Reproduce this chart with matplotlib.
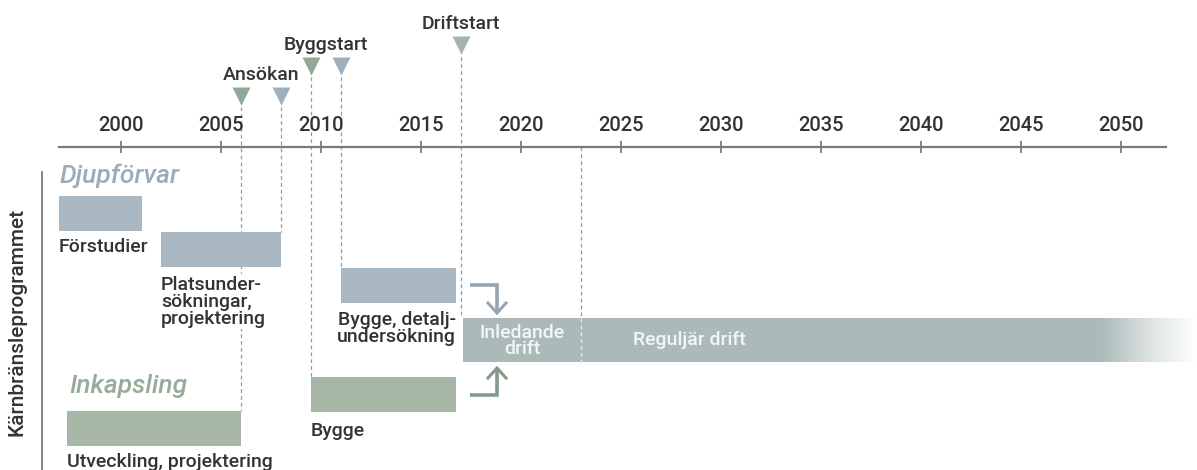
import numpy as np
import matplotlib.pyplot as plt

plt.rcParams['font.family'] = ['Roboto', 'DejaVu Sans']

# tidsaxel
years = list(range(2000, 2051, 5))

# Djupförvar
dj_labels = ['Förstudier', 'Platsunder-\nsökningar,\nprojektering', 'Bygge, detalj-\nundersökning']
dj_start = [1996.9, 2002, 2011]
dj_end = [2001.05, 2008, 2016.75]

# Inkapsling
ink_labels = ['Utveckling, projektering', 'Bygge']
ink_start = [1997.3, 2009.5]
ink_end = [2006, 2016.75]

# drift
drift_start = 2017.1
regular_start = 2023
drift_end = 2054

# milstolpar
ms_names = ['Ansökan', 'Byggstart', 'Driftstart']
ms_green = [2006, 2009.5, None]
ms_blue = [2008, 2011, 2017]

c_blue = '#a9b8c3'
c_green = '#a6b6a7'
c_drift = '#abbab9'
c_tri_green = '#93a897'
c_tri_blue = '#9cb0bf'
c_tri_drift = '#a2b5b4'
c_text = '#333333'
fs = 14

fig = plt.figure(figsize=(11.97, 4.70), dpi=100)
ax = fig.add_axes([0, 0, 1, 1])
x0 = 2000 - 121 / 20
ax.set_xlim(x0, x0 + 1197 / 20)
ax.set_ylim(470, 0)
ax.axis('off')

# axel
axis_y = 147
ax.plot([x0 + 59 / 20, x0 + 1166 / 20], [axis_y, axis_y], color='#7a7a7a', lw=1.6)
ax.vlines(years, axis_y - 6, axis_y + 6, color='#7a7a7a', lw=1.3)
for y in years:
    ax.text(y, axis_y - 12, str(y), ha='center', va='bottom', fontsize=14.5,
            color=c_text, fontweight='medium')

# staplar Djupförvar
dj_rows = [213.5, 249.5, 285]
dj_h = 35
for lab, s, e, r in zip(dj_labels, dj_start, dj_end, dj_rows):
    ax.barh(r, e - s, left=s, height=dj_h, color=c_blue, zorder=2)
txt = dict(fontsize=fs, color=c_text, fontweight='medium', linespacing=0.95, va='top',
           zorder=3)
white_box = dict(facecolor='white', edgecolor='none', pad=1)
ax.text(dj_start[0], dj_rows[0] + 25, dj_labels[0], ha='left', **txt)
ax.text(dj_start[1], dj_rows[1] + 26, dj_labels[1], ha='left', bbox=white_box, **txt)
ax.text(dj_end[2], dj_rows[2] + 26, dj_labels[2], ha='right', **txt)

# staplar Inkapsling
ink_rows = [428, 394]
for lab, s, e, r in zip(ink_labels, ink_start, ink_end, ink_rows):
    ax.barh(r, e - s, left=s, height=dj_h, color=c_green, zorder=2)
ax.text(ink_start[0], ink_rows[0] + 25, ink_labels[0], ha='left', **txt)
ax.text(ink_start[1], ink_rows[1] + 28, ink_labels[1], ha='left', **txt)

# driftstapel med uttoning
drift_row = 340
drift_h = 44
fade_at = 2049
ax.barh(drift_row, fade_at - drift_start, left=drift_start, height=drift_h, color=c_drift,
        zorder=2)
grad = np.ones((1, 256, 4))
rgb = np.array([int(c_drift[i:i + 2], 16) / 255 for i in (1, 3, 5)])
grad[0, :, :3] = rgb
grad[0, :, 3] = np.linspace(1, 0, 256) ** 1.3
ax.imshow(grad, extent=[fade_at, drift_end, drift_row + drift_h / 2, drift_row - drift_h / 2],
          aspect='auto', interpolation='bilinear', zorder=2)
ax.text((drift_start + regular_start) / 2, drift_row + 1, 'Inledande\ndrift', ha='center',
        va='center', fontsize=fs, color='#f4f6f6', fontweight='medium',
        linespacing=0.9, zorder=3)
ax.text(regular_start + 2.6, drift_row, 'Reguljär drift', ha='left', va='center',
        fontsize=fs, color='#f4f6f6', fontweight='medium', zorder=3)

# streckade linjer
dash = dict(color='#9a9a9a', lw=0.9, ls=(0, (3, 2.5)), zorder=1)
ax.plot([ms_green[0]] * 2, [100, ink_rows[0] - dj_h / 2], **dash)
ax.plot([ms_blue[0]] * 2, [100, dj_rows[1] - dj_h / 2], **dash)
ax.plot([ms_green[1]] * 2, [70, ink_rows[1] - dj_h / 2], **dash)
ax.plot([ms_blue[1]] * 2, [70, dj_rows[2] - dj_h / 2], **dash)
ax.plot([ms_blue[2]] * 2, [50, drift_row - drift_h / 2], **dash)
ax.plot([regular_start] * 2, [axis_y, drift_row + drift_h / 2], **dash)
ax.plot([regular_start] * 2, [drift_row - drift_h / 2, drift_row + drift_h / 2],
        color='#e6ecec', lw=0.9, ls=(0, (3, 2.5)), zorder=3)

# milstolpar
tri_y = [96, 66, 45]
for i, name in enumerate(ms_names):
    if ms_green[i] is not None:
        ax.plot(ms_green[i], tri_y[i], marker='v', ms=13, color=c_tri_green, mec='none')
        ax.plot(ms_blue[i], tri_y[i], marker='v', ms=13, color=c_tri_blue, mec='none')
        cx = (ms_green[i] + ms_blue[i]) / 2
    else:
        ax.plot(ms_blue[i], tri_y[i], marker='v', ms=13, color=c_tri_drift, mec='none')
        cx = ms_blue[i]
    ax.text(cx, tri_y[i] - 12, name, ha='center', va='bottom', fontsize=fs,
            color=c_text, fontweight='medium')

# pilar (vinkel + öppen pilspets)
def bent_arrow(y_from, y_tip, color):
    xa = drift_start + 0.35
    xb = xa + 1.35
    step = 10 if y_tip > y_from else -10
    ax.plot([xa, xb, xb], [y_from, y_from, y_tip], color=color, lw=2.6,
            solid_capstyle='butt', solid_joinstyle='miter')
    ax.plot([xb - 0.45, xb, xb + 0.45], [y_tip - step, y_tip, y_tip - step],
            color=color, lw=2.2, solid_joinstyle='miter')

bent_arrow(285, 313, '#95a5b1')
bent_arrow(395, 368, '#83998a')

# rubriker
ax.text(dj_start[0] + 0.05, 176, 'Djupförvar', ha='left', va='center', fontsize=19,
        style='italic', color='#9cabb7', fontweight='medium')
ax.text(ink_start[0] + 0.1, 386, 'Inkapsling', ha='left', va='center', fontsize=19,
        style='italic', color='#97ab99', fontweight='medium')

# vänster linje och etikett
ax.plot([x0 + 42 / 20] * 2, [172, 470], color='#7a7a7a', lw=1.3)
ax.text(x0 + 17 / 20, 322, 'Kärnbränsleprogrammet', rotation=90, ha='center',
        va='center', fontsize=15, color=c_text, fontweight='medium')

fig.savefig('out.png', dpi=100)
